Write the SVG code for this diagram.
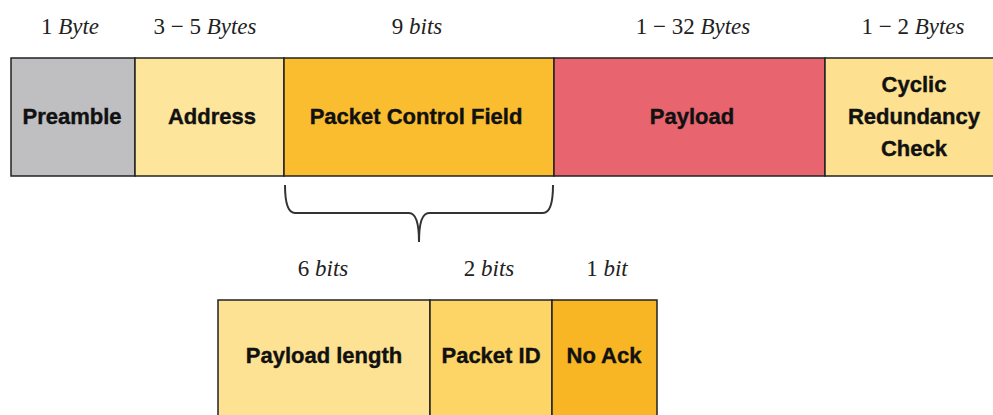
<svg xmlns="http://www.w3.org/2000/svg" width="993" height="415" viewBox="0 0 993 415">
<style>
.box{stroke:#222;stroke-width:1.5}
.lbl{font-family:"Liberation Sans",Arial,sans-serif;font-weight:bold;font-size:22px;fill:#111;text-anchor:middle;stroke:#111;stroke-width:0.4}
.sz{font-family:"Liberation Serif","Times New Roman",serif;font-size:23px;fill:#222;text-anchor:middle}
.it{font-style:italic}
</style>
<rect width="993" height="415" fill="#ffffff"/>
<g id="sizes">
<text class="sz" x="70" y="34">1 <tspan class="it">Byte</tspan></text>
<text class="sz" x="205" y="34">3 − 5 <tspan class="it">Bytes</tspan></text>
<text class="sz" x="417" y="34">9 <tspan class="it">bits</tspan></text>
<text class="sz" x="693" y="34">1 − 32 <tspan class="it">Bytes</tspan></text>
<text class="sz" x="913" y="34">1 − 2 <tspan class="it">Bytes</tspan></text>
<text class="sz" x="323" y="276">6 <tspan class="it">bits</tspan></text>
<text class="sz" x="489" y="276">2 <tspan class="it">bits</tspan></text>
<text class="sz" x="607" y="276">1 <tspan class="it">bit</tspan></text>
</g>
<g id="preamble"><rect class="box" x="11" y="58" width="124" height="118" fill="#bfbfc1"/><text class="lbl" x="72" y="124">Preamble</text></g>
<g id="address"><rect class="box" x="135" y="58" width="149" height="118" fill="#fde59c"/><text class="lbl" x="212" y="124">Address</text></g>
<g id="pcf"><rect class="box" x="284" y="58" width="270" height="118" fill="#fabd2f"/><text class="lbl" x="416" y="124">Packet Control Field</text></g>
<g id="payload"><rect class="box" x="554" y="58" width="271" height="118" fill="#e8646f"/><text class="lbl" x="692" y="124">Payload</text></g>
<g id="crc"><rect class="box" x="825" y="58" width="180" height="118" fill="#fde190"/><text class="lbl" x="914" y="92">Cyclic</text><text class="lbl" x="914" y="124">Redundancy</text><text class="lbl" x="914" y="156">Check</text></g>
<g id="connectors"><path d="M285 185 Q285 213 295 213 L409 213 Q419 213 419 242 Q419 213 429 213 L543 213 Q553 213 553 185" fill="none" stroke="#333" stroke-width="2"/></g>
<g id="plen"><rect class="box" x="218" y="300" width="212" height="130" fill="#fee293"/><text class="lbl" x="324" y="363">Payload length</text></g>
<g id="pid"><rect class="box" x="430" y="300" width="122" height="130" fill="#fdd566"/><text class="lbl" x="491" y="363">Packet ID</text></g>
<g id="noack"><rect class="box" x="552" y="300" width="105" height="130" fill="#f9b624"/><text class="lbl" x="604" y="363">No Ack</text></g>
</svg>
